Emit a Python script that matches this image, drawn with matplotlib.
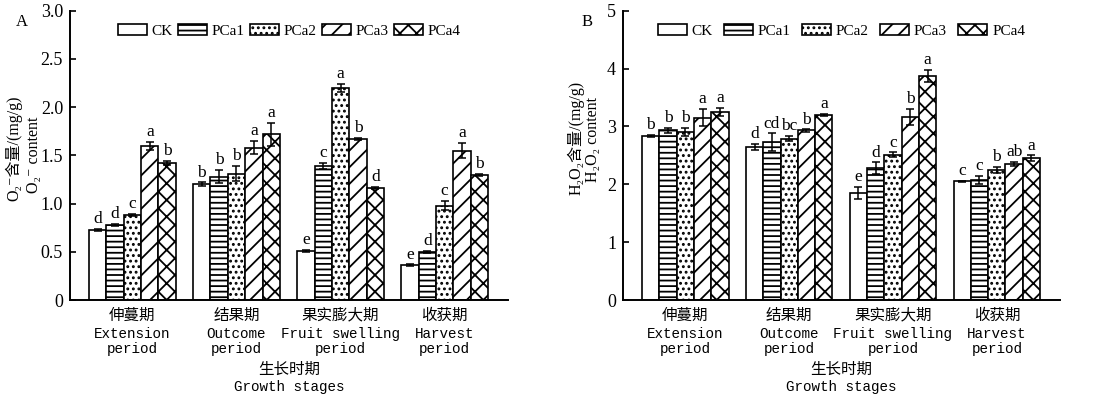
import numpy as np
import matplotlib
matplotlib.use("Agg")
import matplotlib.pyplot as plt
from matplotlib.patches import Patch

plt.rcParams['hatch.linewidth'] = 1.3
plt.rcParams['font.family'] = ['Liberation Serif', 'DejaVu Serif', 'Noto Sans CJK SC']

treatments = ['CK', 'PCa1', 'PCa2', 'PCa3', 'PCa4']
stage_cn = ['伸蔓期', '结果期', '果实膨大期', '收获期']
stage_en = ['Extension\nperiod', 'Outcome\nperiod', 'Fruit swelling\nperiod', 'Harvest\nperiod']

# O2- content, rows = stages, cols = treatments
o2_vals = [[0.73, 0.78, 0.88, 1.60, 1.42],
           [1.20, 1.28, 1.31, 1.58, 1.72],
           [0.51, 1.39, 2.20, 1.67, 1.16],
           [0.36, 0.50, 0.98, 1.55, 1.30]]
o2_err = [[0.01, 0.01, 0.01, 0.04, 0.02],
          [0.02, 0.07, 0.08, 0.07, 0.12],
          [0.01, 0.03, 0.04, 0.01, 0.01],
          [0.01, 0.01, 0.05, 0.08, 0.01]]
o2_letters = [['d', 'd', 'c', 'a', 'b'],
              ['b', 'b', 'b', 'a', 'a'],
              ['e', 'c', 'a', 'b', 'd'],
              ['e', 'd', 'c', 'a', 'b']]

# H2O2 content
h2o2_vals = [[2.83, 2.93, 2.91, 3.15, 3.25],
             [2.65, 2.73, 2.79, 2.93, 3.20],
             [1.85, 2.28, 2.51, 3.17, 3.87],
             [2.05, 2.08, 2.25, 2.35, 2.45]]
h2o2_err = [[0.02, 0.04, 0.07, 0.15, 0.07],
            [0.05, 0.15, 0.05, 0.02, 0.02],
            [0.10, 0.10, 0.04, 0.14, 0.11],
            [0.01, 0.07, 0.05, 0.04, 0.05]]
h2o2_letters = [['b', 'b', 'b', 'a', 'a'],
                ['d', 'cd', 'bc', 'b', 'a'],
                ['e', 'd', 'c', 'b', 'a'],
                ['c', 'c', 'b', 'ab', 'a']]

hatches = ['', '---', '...', '//', 'xx']
mono = ['Liberation Mono', 'DejaVu Sans Mono']
cjk = ['Noto Sans CJK SC']


def draw_panel(ax, vals, errs, letters, ymax, yticks, yticklabels,
               ylab1, ylab2, ylab_pos, tag, tag_x, colspace):
    vals = np.array(vals)
    errs = np.array(errs)
    w = 1.0
    centers = np.arange(vals.shape[0]) * 6 * w
    for j in range(vals.shape[1]):
        x = centers + (j - 2) * w
        ax.bar(x, vals[:, j], width=w, color='white', edgecolor='black',
               linewidth=1.2, hatch=hatches[j])
        ax.errorbar(x, vals[:, j], yerr=errs[:, j], fmt='none', ecolor='black',
                    elinewidth=1.1, capsize=3, capthick=1.1)
        for k in range(len(x)):
            ax.text(x[k], vals[k, j] + errs[k, j] + ymax * 0.006, letters[k][j],
                    ha='center', va='bottom', fontsize=12.5)
    ax.set_xlim(centers[0] - 3.6 * w, centers[-1] + 3.65 * w)
    ax.set_ylim(0, ymax)
    ax.set_yticks(yticks)
    ax.set_yticklabels(yticklabels, fontsize=13)
    ax.set_xticks([])
    ax.tick_params(axis='y', length=4, width=1.2, direction='in', pad=5)
    ax.spines['top'].set_visible(False)
    ax.spines['right'].set_visible(False)
    ax.spines['left'].set_linewidth(1.4)
    ax.spines['bottom'].set_linewidth(1.4)

    # category labels: Chinese line + English lines
    for k, c in enumerate(centers):
        ax.annotate(stage_cn[k], xy=(c, 0), xycoords=('data', 'axes fraction'),
                    xytext=(0, -10.8), textcoords='offset points',
                    ha='center', va='center', family=cjk, fontsize=11.2)
        ax.annotate(stage_en[k], xy=(c, 0), xycoords=('data', 'axes fraction'),
                    xytext=(0, -29.9), textcoords='offset points',
                    ha='center', va='center', family=mono, fontsize=10.3,
                    linespacing=1.05)
    ax.annotate('生长时期', xy=(0.5, 0), xycoords='axes fraction',
                xytext=(0, -49.7), textcoords='offset points',
                ha='center', va='center', family=cjk, fontsize=11.2)
    ax.annotate('Growth stages', xy=(0.5, 0), xycoords='axes fraction',
                xytext=(0, -62.4), textcoords='offset points',
                ha='center', va='center', family=mono, fontsize=10.3)

    # two-line y label
    ax.text(ylab_pos[0], ylab_pos[1], ylab1, transform=ax.transAxes,
            rotation=90, ha='center', va='center', fontsize=11.5)
    ax.text(ylab_pos[2], ylab_pos[3], ylab2, transform=ax.transAxes,
            rotation=90, ha='center', va='center', fontsize=11.5)

    handles = [Patch(facecolor='white', edgecolor='black', hatch=hatches[j],
                     linewidth=1.2, label=treatments[j]) for j in range(5)]
    ax.legend(handles=handles, loc='center', bbox_to_anchor=(0.5, 0.93),
              ncol=5, frameon=False, fontsize=11, handlelength=1.9,
              handleheight=0.75, handletextpad=0.3, columnspacing=colspace,
              borderaxespad=0)
    ax.text(tag_x, 0.962, tag, transform=ax.transAxes, fontsize=12,
            ha='center', va='center')


fig = plt.figure(figsize=(11, 3.97), dpi=100)
ax1 = fig.add_axes([0.0636, 0.2443, 0.3982, 0.7287])
ax2 = fig.add_axes([0.5664, 0.2443, 0.3972, 0.7287])

draw_panel(ax1, o2_vals, o2_err, o2_letters, 3.0,
           [0, 0.5, 1.0, 1.5, 2.0, 2.5, 3.0],
           ['0', '0.5', '1.0', '1.5', '2.0', '2.5', '3.0'],
           'O₂⁻含量/(mg/g)', 'O₂⁻ content', (-0.128, 0.526, -0.082, 0.502),
           'A', -0.11, 0.35)
draw_panel(ax2, h2o2_vals, h2o2_err, h2o2_letters, 5.0,
           [0, 1, 2, 3, 4, 5], ['0', '1', '2', '3', '4', '5'],
           'H₂O₂含量/(mg/g)', 'H₂O₂ content', (-0.108, 0.56, -0.068, 0.554),
           'B', -0.082, 0.75)

fig.savefig('out.png', dpi=100)
